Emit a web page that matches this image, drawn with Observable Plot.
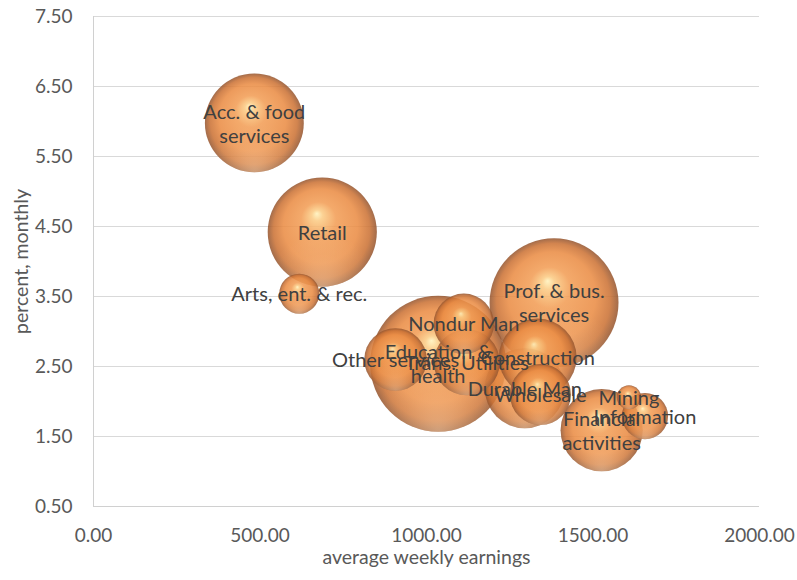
<!DOCTYPE html>
<html>
<head>
<meta charset="utf-8">
<script src="https://cdn.jsdelivr.net/npm/d3@7"></script>
<script src="https://cdn.jsdelivr.net/npm/@observablehq/plot@0.6"></script>
<style>
  html, body { margin: 0; padding: 0; background: #ffffff; }
  #chart { width: 797px; height: 580px; }
</style>
</head>
<body>
<div id="chart"></div>
<script>
// ---- data ----
const industries = ["Mining", "Construction", "Durable Man", "Nondur Man", "Wholesale", "Retail",
  "Trans. Utilities", "Information", "Financial\nactivities", "Prof. & bus.\nservices",
  "Education &\nhealth", "Arts, ent. & rec.", "Acc. & food\nservices", "Other services"];
const earnings = [1608, 1334, 1295, 1112, 1342, 687, 1121, 1656, 1526, 1383, 1035, 618, 483, 907];
const quitRate = [2.06, 2.63, 2.19, 3.11, 2.10, 4.42, 2.56, 1.79, 1.59, 3.41, 2.54, 3.54, 5.98, 2.60];
const bubbleSize = [650, 6800, 7200, 4100, 4200, 13400, 4900, 2400, 7600, 18700, 20800, 1800, 11000, 4400];
const xTicks = [0, 500, 1000, 1500, 2000];
const yTicks = [0.5, 1.5, 2.5, 3.5, 4.5, 5.5, 6.5, 7.5];
const xTitle = "average weekly earnings";
const yTitle = "percent, monthly";

const rows = industries.map((name, i) => ({
  name, x: earnings[i], y: quitRate[i], size: bubbleSize[i]
}));
const drawOrder = rows.slice().sort((a, b) => b.size - a.size);

const fmt = d3.format(".2f");
const maxSize = d3.max(bubbleSize);

const chart = Plot.plot({
  width: 797,
  height: 580,
  marginLeft: 93,
  marginRight: 38,
  marginTop: 16,
  marginBottom: 74,
  style: { fontFamily: "Lato, 'Open Sans', sans-serif", fontSize: "19px", background: "#ffffff", color: "#595959" },
  x: { domain: [0, 2000] },
  y: { domain: [0.5, 7.5] },
  r: { type: "sqrt", domain: [0, maxSize], range: [0, 68] },
  marks: [
    Plot.gridY(yTicks, { stroke: "#d9d9d9", strokeOpacity: 1, strokeWidth: 1 }),
    Plot.ruleX([0], { stroke: "#d0d0d0", strokeWidth: 1 }),
    Plot.ruleY([0.5], { stroke: "#d0d0d0", strokeWidth: 1 }),
    Plot.axisX(xTicks, { tickFormat: fmt, tickSize: 0, tickPadding: 22, fill: "#595959", label: null }),
    Plot.axisY(yTicks, { tickFormat: fmt, tickSize: 0, tickPadding: 21, fill: "#595959", label: null }),
    Plot.text([xTitle], {
      text: d => d, frameAnchor: "bottom", dy: 57, fill: "#595959", fontSize: 19.5,
      textAnchor: "middle"
    }),
    Plot.text([yTitle], {
      text: d => d, frameAnchor: "left", dx: -72, rotate: -90, fill: "#595959", fontSize: 19.5,
      textAnchor: "middle", lineAnchor: "middle"
    }),
    Plot.dot(drawOrder, {
      x: "x", y: "y", r: "size",
      fill: "url(#sphereGrad)", fillOpacity: 0.87, stroke: "none",
      className: "bubble"
    }),
    Plot.text(rows, {
      x: "x", y: "y", text: "name",
      fill: "#404040", fontSize: 20, lineHeight: 1.2, textAnchor: "middle"
    })
  ]
});

// gradient definitions for the sphere look
const svg = d3.select(chart);
const defs = svg.insert("defs", ":first-child");
const g1 = defs.append("radialGradient").attr("id", "sphereGrad")
  .attr("cx", "50%").attr("cy", "50%").attr("r", "50%").attr("fx", "45%").attr("fy", "33%");
[["0%", "#fff2bc"], ["10%", "#fbcb84"], ["32%", "#f29d55"], ["68%", "#ea8c44"], ["88%", "#cb7235"], ["100%", "#955630"]]
  .forEach(([o, c]) => g1.append("stop").attr("offset", o).attr("stop-color", c));
const g2 = defs.append("radialGradient").attr("id", "glowGrad")
  .attr("cx", "50%").attr("cy", "100%").attr("r", "50%");
[["0%", "#ffdcb8", 0.45], ["60%", "#ffd0a0", 0.15], ["100%", "#ffd0a0", 0]]
  .forEach(([o, c, a]) => g2.append("stop").attr("offset", o).attr("stop-color", c).attr("stop-opacity", a));

// add reflection layer right above each bubble (copy of library-placed circle)
svg.selectAll("g.bubble circle").each(function () {
  const c = this.cloneNode(false);
  c.setAttribute("fill", "url(#glowGrad)");
  c.setAttribute("fill-opacity", "1");
  this.parentNode.insertBefore(c, this.nextSibling);
});

document.getElementById("chart").appendChild(chart);
</script>
</body>
</html>
